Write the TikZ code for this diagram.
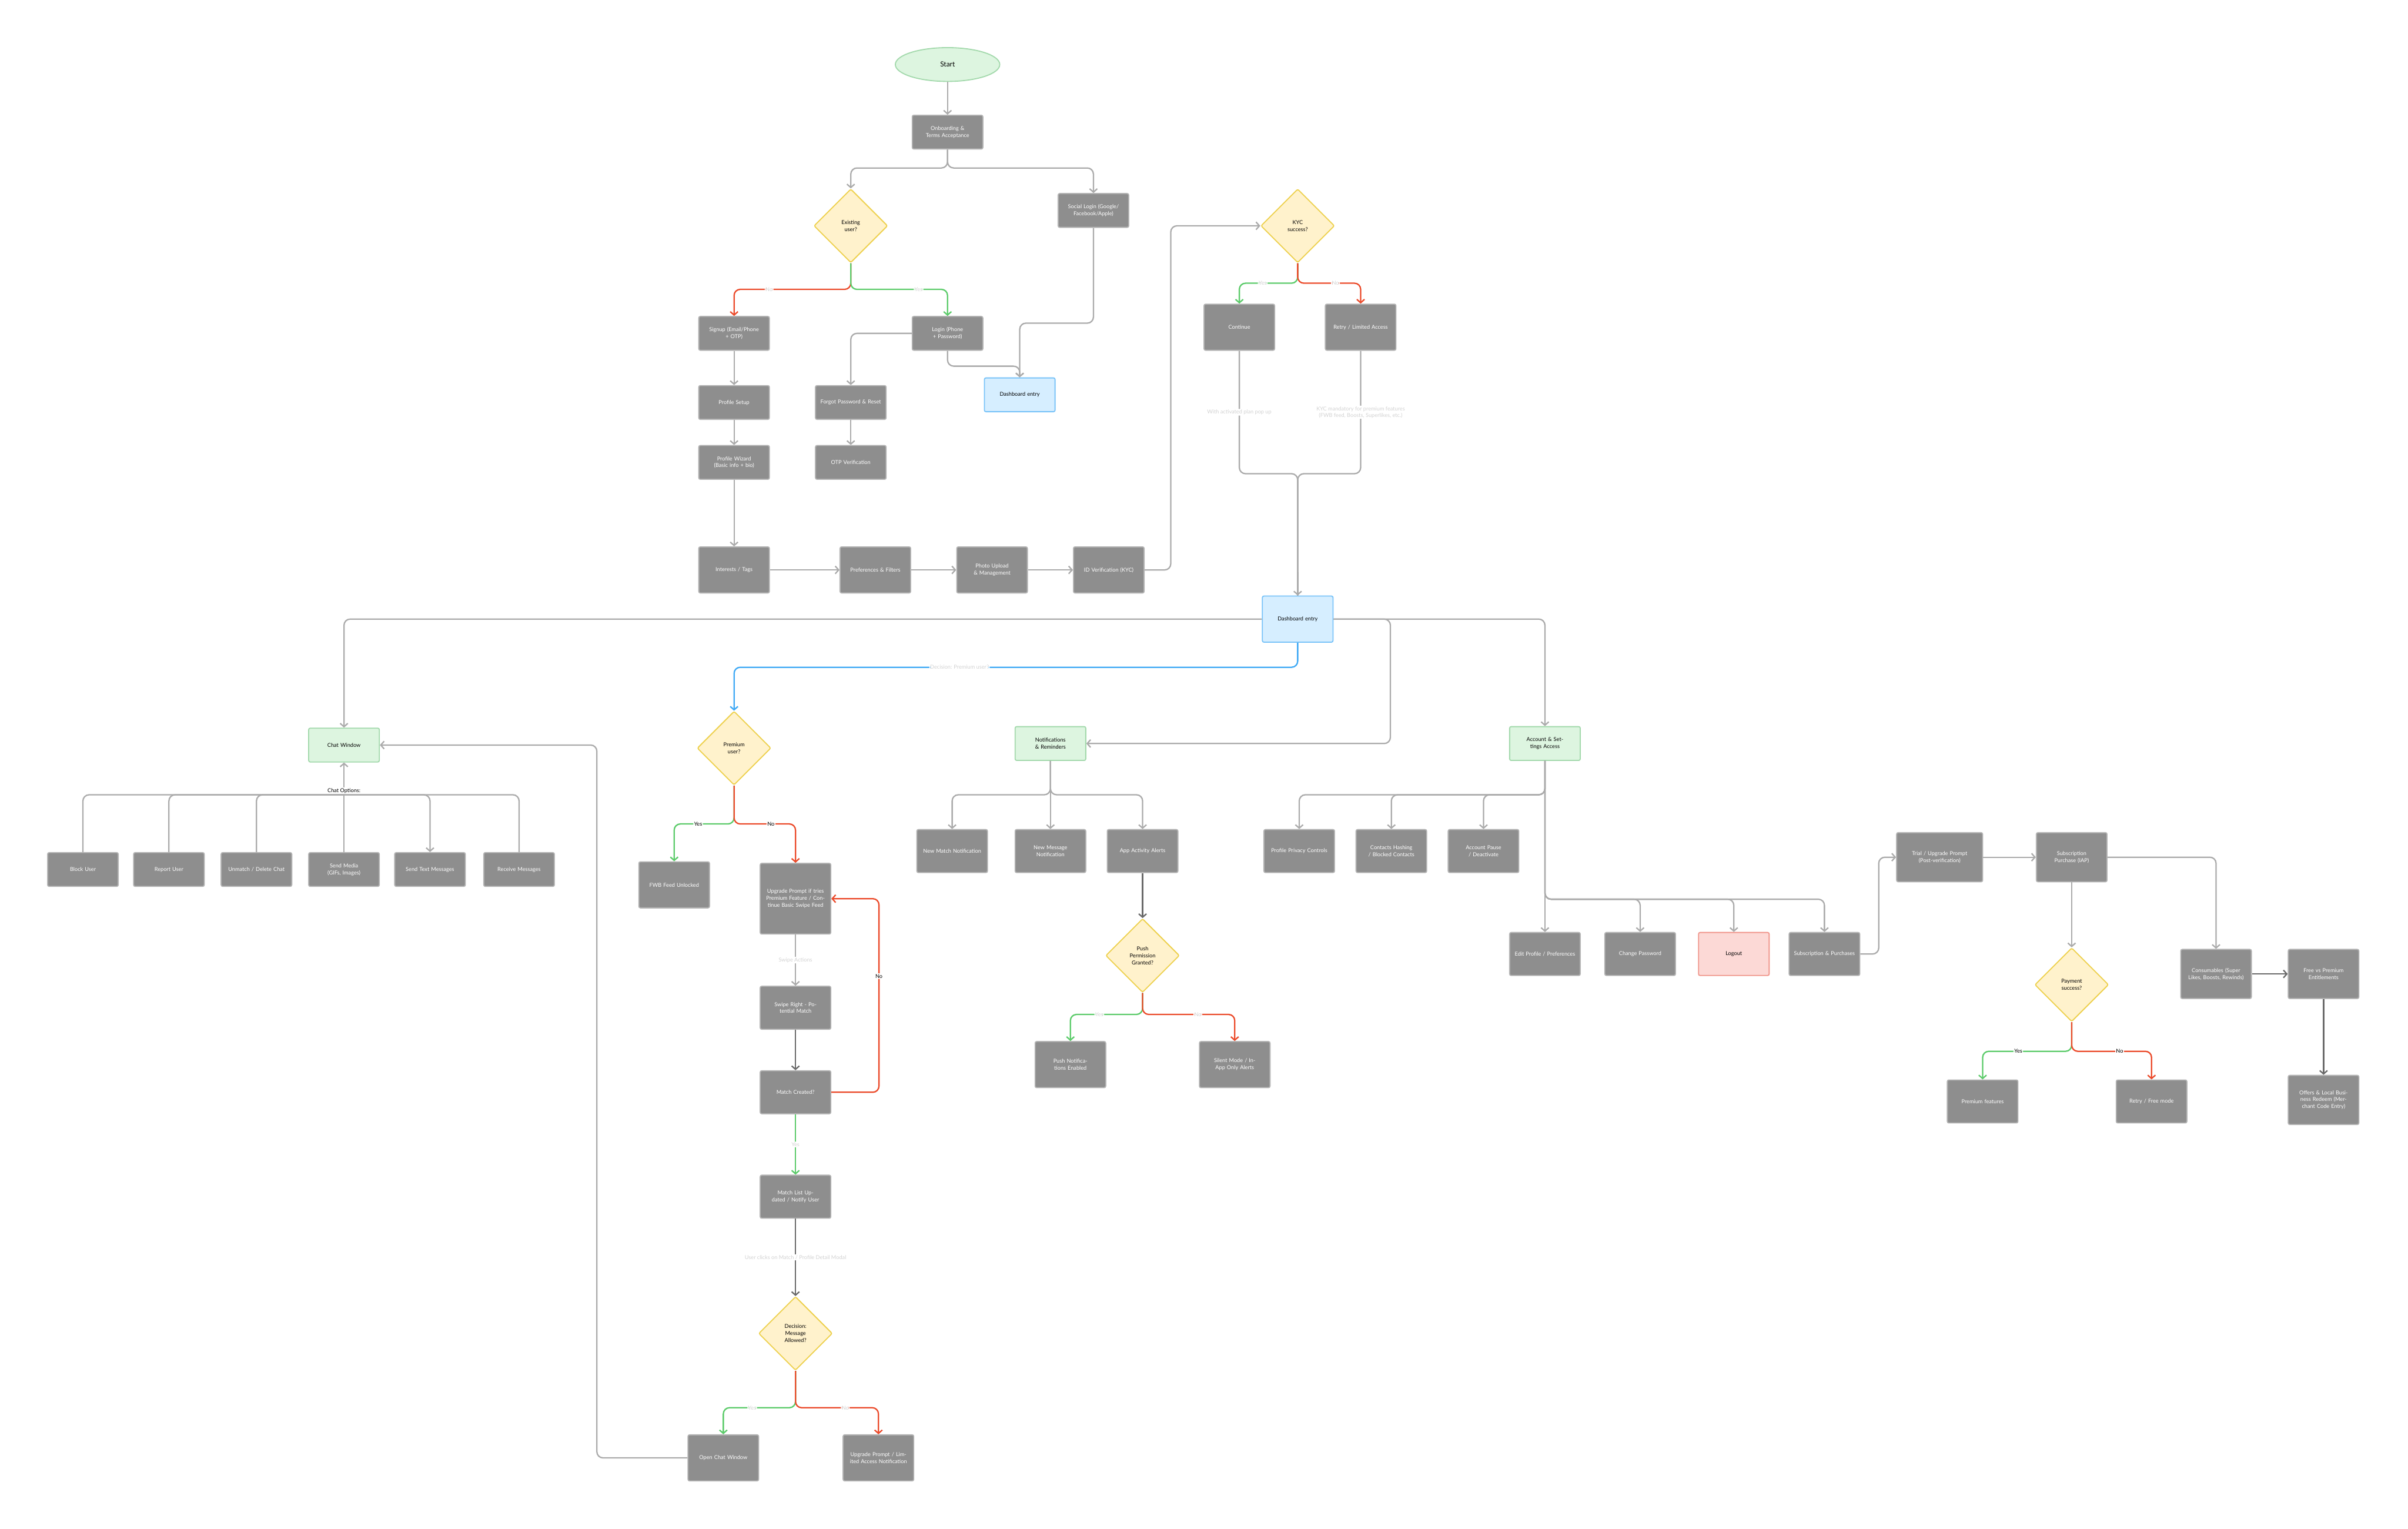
\documentclass[tikz,border=0pt]{standalone}
\usepackage{fontspec}
\setmainfont{Lato}
\usepackage{tikz}
\usetikzlibrary{arrows.meta,shapes.geometric,calc}

\definecolor{boxgray}{HTML}{8E8E8E}
\definecolor{boxline}{HTML}{B4B4B4}
\definecolor{lgray}{HTML}{ABABAB}
\definecolor{dgray}{HTML}{6A6A6A}
\definecolor{faint}{HTML}{D2D2D2}
\definecolor{yesgreen}{HTML}{5CCB6A}
\definecolor{nored}{HTML}{EB4A2A}
\definecolor{blueline}{HTML}{3FA9F5}
\definecolor{decfill}{HTML}{FFF2CC}
\definecolor{decline}{HTML}{EDD04C}
\definecolor{grnfill}{HTML}{DDF5E0}
\definecolor{grnline}{HTML}{A3D9AC}
\definecolor{bluefill}{HTML}{D6EEFF}
\definecolor{pinkfill}{HTML}{FCD9D6}
\definecolor{pinkline}{HTML}{F0968C}

\tikzset{
  proc/.style={rectangle, rounded corners=1mm, fill=boxgray, draw=boxline, line width=2pt,
    text=white, align=center, text width=40mm, minimum width=46mm, minimum height=22mm,
    font=\fontsize{10}{13}\selectfont},
  tall/.style={minimum height=30mm},
  grnbox/.style={proc, fill=grnfill, draw=grnline, text=black},
  bluebox/.style={proc, fill=bluefill, draw=blueline!70, text=black},
  pinkbox/.style={proc, fill=pinkfill, draw=pinkline, text=black},
  dec/.style={diamond, fill=decfill, draw=decline, line width=2pt, rounded corners=1mm,
    minimum width=48mm, minimum height=48mm, inner sep=0pt, align=center, text width=24mm,
    font=\fontsize{10}{13}\selectfont},
  ar/.style={draw=lgray, line width=2.5pt, rounded corners=4mm,
    -{Straight Barb[length=2.2mm,width=5mm]}},
  ln/.style={draw=lgray, line width=2.5pt, rounded corners=4mm},
  yes/.style={ar, draw=yesgreen},
  no/.style={ar, draw=nored},
  dk/.style={ar, draw=dgray},
  lbl/.style={fill=white, inner sep=1.5pt, text=faint, font=\fontsize{10}{12}\selectfont, align=center},
  lbldark/.style={lbl, text=black},
}

\begin{document}
\begin{tikzpicture}[x=1mm,y=-1mm]
\useasboundingbox (0,0) rectangle (1568,995);
% top: onboarding
\node[ellipse, fill=grnfill, draw=grnline, line width=2pt, minimum width=68mm, minimum height=22mm,
  font=\fontsize{13}{15}\selectfont] (start) at (617,42) {Start};
\node[proc] (onb) at (617,86) {Onboarding \& Terms Acceptance};
\node[dec] (exist) at (554,147) {Existing\\ user?};
\node[proc] (social) at (712,137) {Social Login (Google/ Facebook/Apple)};
\node[proc] (signup) at (478,217) {Signup (Email/Phone + OTP)};
\node[proc] (login) at (617,217) {Login (Phone + Password)};
\node[proc] (psetup) at (478,262) {Profile Setup};
\node[proc] (forgot) at (554,262) {Forgot Password \& Reset};
\node[bluebox] (dash1) at (664,257) {Dashboard entry};
\node[proc] (wizard) at (478,301) {Profile Wizard (Basic info + bio)};
\node[proc] (otp) at (554,301) {OTP Verification};
\node[proc,tall] (interests) at (478,371) {Interests / Tags};
\node[proc,tall] (prefs) at (570,371) {Preferences \& Filters};
\node[proc,tall] (photo) at (646,371) {Photo Upload \& Management};
\node[proc,tall] (idv) at (722,371) {ID Verification (KYC)};
\node[dec] (kyc) at (845,147) {KYC\\ success?};
\node[proc,tall] (cont) at (807,213) {Continue};
\node[proc,tall] (retry) at (886,213) {Retry / Limited Access};
\node[bluebox,tall] (dash2) at (845,403) {Dashboard entry};

\draw[ar] (start) -- (onb);
\draw[ar] (onb.south) -- ++(0,12) -| (exist.north);
\draw[ar] (onb.south) -- ++(0,12) -| (social.north);
\draw[no] (exist.south) -- ++(0,17) -| node[lbl,pos=0.35]{No} (signup.north);
\draw[yes] (exist.south) -- ++(0,17) -| node[lbl,pos=0.35]{Yes} (login.north);
\draw[ar] (social.south) -- ++(0,62) -| (dash1.north);
\draw[ar] (login.south) -- ++(0,10) -| (dash1.north);
\draw[ar] (login.west) -| (forgot.north);
\draw[ar] (signup) -- (psetup);
\draw[ar] (psetup) -- (wizard);
\draw[ar] (wizard) -- (interests);
\draw[ar] (forgot) -- (otp);
\draw[ar] (interests) -- (prefs);
\draw[ar] (prefs) -- (photo);
\draw[ar] (photo) -- (idv);
\draw[ar] (idv.east) -- ++(17,0) |- (kyc.west);
\draw[yes] (kyc.south) -- ++(0,13) -| node[lbl,pos=0.3]{Yes} (cont.north);
\draw[no] (kyc.south) -- ++(0,13) -| node[lbl,pos=0.3]{No} (retry.north);
\draw[ln] (cont.south) -- node[lbl]{With activated plan pop up} ++(0,80) -| (dash2.north);
\draw[ln] (retry.south) -- node[lbl]{KYC mandatory for premium features\\ (FWB feed, Boosts, Superlikes, etc.)} ++(0,80) -| (dash2.north);
\draw[ar] ($(dash2.north)+(0,-15)$) -- (dash2.north);

% dashboard branches
\node[grnbox] (chat) at (224,485) {Chat Window};
\node[dec] (premium) at (478,487) {Premium\\ user?};
\node[grnbox] (notif) at (684,484) {Notifications \& Reminders};
\node[grnbox] (acct) at (1006,484) {Account \& Settings Access};
\draw[ar] (dash2.west) -| (chat.north);
\draw[ar, draw=blueline] (dash2.south) -- ++(0,16) -| node[lbl,pos=0.3]{Decision: Premium user?} (premium.north);
\draw[ar] (dash2.east) -- ++(37,0) |- (notif.east);
\draw[ar] (dash2.east) -| (acct.north);

% chat options
\node[font=\fontsize{10}{12}\selectfont, fill=white, inner sep=2pt] (chatopt) at (224,515) {Chat Options:};
\node[proc] (block) at (54,566) {Block User};
\node[proc] (report) at (110,566) {Report User};
\node[proc] (unmatch) at (167,566) {Unmatch / Delete Chat};
\node[proc] (media) at (224,566) {Send Media (GIFs, Images)};
\node[proc] (sendtxt) at (280,566) {Send Text Messages};
\node[proc] (receive) at (338,566) {Receive Messages};
\draw[ar] (chatopt) -- (chat.south);
\foreach \b in {block,report,unmatch,receive}
  \draw[ln] (\b.north) |- (chatopt.south);
\draw[ln] (media.north) -- (chatopt.south);
\draw[ar] (chatopt.south) -| (sendtxt.north);

% swipe flow
\node[proc,tall] (fwb) at (439,576) {FWB Feed Unlocked};
\node[proc, minimum height=46mm] (upg) at (518,585) {Upgrade Prompt if tries Premium Feature / Continue Basic Swipe Feed};
\node[proc,minimum height=28mm] (swipe) at (518,656) {Swipe Right - Potential Match};
\node[proc,minimum height=28mm] (match) at (518,711) {Match Created?};
\node[proc,minimum height=28mm] (mlist) at (518,779) {Match List Updated / Notify User};
\node[dec] (msgok) at (518,868) {Decision:\\ Message\\ Allowed?};
\node[proc,tall] (openchat) at (471,949) {Open Chat Window};
\node[proc,tall] (upg2) at (572,949) {Upgrade Prompt / Limited Access Notification};
\draw[yes] (premium.south) -- ++(0,25) -| node[lbldark,pos=0.3]{Yes} (fwb.north);
\draw[no] (premium.south) -- ++(0,25) -| node[lbldark,pos=0.3]{No} (upg.north);
\draw[ar] (upg) -- node[lbl]{Swipe Actions} (swipe);
\draw[dk] (swipe) -- (match);
\draw[no] (match.east) -- ++(31,0) |- node[lbldark,pos=0.3]{No} (upg.east);
\draw[yes] (match) -- node[lbl]{Yes} (mlist);
\draw[dk] (mlist) -- node[lbl]{User clicks on Match / Profile Detail Modal} (msgok);
\draw[yes] (msgok.south) -- ++(0,24) -| node[lbl,pos=0.3]{Yes} (openchat.north);
\draw[no] (msgok.south) -- ++(0,24) -| node[lbl,pos=0.3]{No} (upg2.north);
\draw[ar] (openchat.west) -- ++(-59,0) |- (chat.east);

% notifications
\node[proc,minimum height=28mm] (newmatch) at (620,554) {New Match Notification};
\node[proc,minimum height=28mm] (newmsg) at (684,554) {New Message Notification};
\node[proc,minimum height=28mm] (appact) at (744,554) {App Activity Alerts};
\node[dec] (push) at (744,622) {Push\\ Permission\\ Granted?};
\node[proc,tall] (pushon) at (697,693) {Push Notifications Enabled};
\node[proc,tall] (silent) at (804,693) {Silent Mode / In-App Only Alerts};
\foreach \b in {newmatch,newmsg,appact}
  \draw[ar] (notif.south) -- ++(0,22) -| (\b.north);
\draw[dk] (appact) -- (push);
\draw[yes] (push.south) -- ++(0,14) -| node[lbl,pos=0.3]{Yes} (pushon.north);
\draw[no] (push.south) -- ++(0,14) -| node[lbl,pos=0.3]{No} (silent.north);

% account & settings
\node[proc,minimum height=28mm] (privacy) at (846,554) {Profile Privacy Controls};
\node[proc,minimum height=28mm] (contacts) at (906,554) {Contacts Hashing / Blocked Contacts};
\node[proc,minimum height=28mm] (pause) at (966,554) {Account Pause / Deactivate};
\node[proc,minimum height=28mm] (editp) at (1006,621) {Edit Profile / Preferences};
\node[proc,minimum height=28mm] (chpw) at (1068,621) {Change Password};
\node[pinkbox,minimum height=28mm] (logout) at (1129,621) {Logout};
\node[proc,minimum height=28mm] (subs) at (1188,621) {Subscription \& Purchases};
\foreach \b in {privacy,contacts,pause}
  \draw[ar] (acct.south) -- ++(0,22) -| (\b.north);
\draw[ar] (acct) -- (editp);
\foreach \b in {chpw,logout,subs}
  \draw[ar] (acct.south) -- ++(0,90) -| (\b.north);

% subscription
\node[proc,minimum width=56mm,text width=50mm,minimum height=32mm] (trial) at (1263,558) {Trial / Upgrade Prompt (Post-verification)};
\node[proc,minimum height=32mm] (subp) at (1349,558) {Subscription Purchase (IAP)};
\node[dec] (pay) at (1349,641) {Payment\\ success?};
\node[proc,minimum height=32mm] (cons) at (1443,634) {Consumables (Super Likes, Boosts, Rewinds)};
\node[proc,minimum height=32mm] (free) at (1513,634) {Free vs Premium Entitlements};
\node[proc,minimum height=32mm] (offers) at (1513,716) {Offers \& Local Business Redeem (Merchant Code Entry)};
\node[proc,minimum height=28mm] (premf) at (1291,717) {Premium features};
\node[proc,minimum height=28mm] (retryf) at (1401,717) {Retry / Free mode};
\draw[ar] (subs.east) -- ++(12,0) |- (trial.west);
\draw[ar] (trial) -- (subp);
\draw[ar] (subp) -- (pay);
\draw[ar] (subp.east) -| (cons.north);
\draw[yes] (pay.south) -- ++(0,19) -| node[lbldark,pos=0.3]{Yes} (premf.north);
\draw[no] (pay.south) -- ++(0,19) -| node[lbldark,pos=0.3]{No} (retryf.north);
\draw[dk] (cons) -- (free);
\draw[dk] (free) -- (offers);
\end{tikzpicture}
\end{document}
